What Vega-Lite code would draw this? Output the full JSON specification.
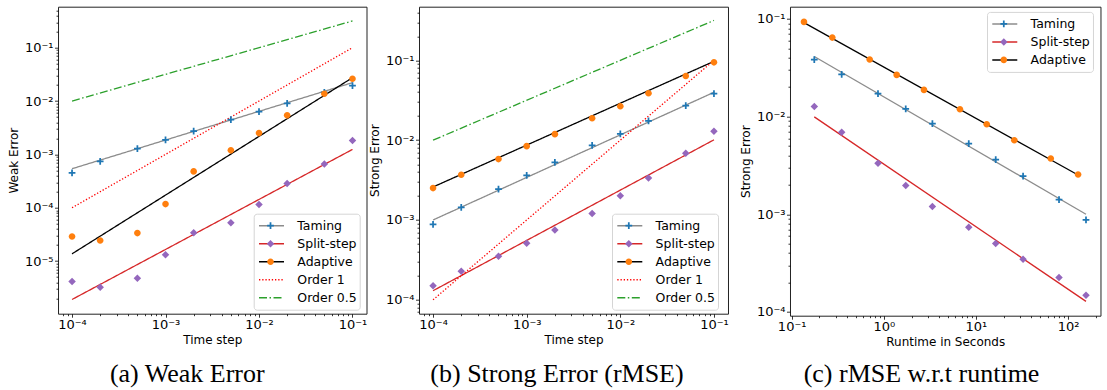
{
  "$schema": "https://vega.github.io/schema/vega-lite/v6.json",
  "padding": {"left": 6, "top": 3.7, "right": 2, "bottom": 0},
  "background": "#ffffff",
  "spacing": -1,
  "datasets": {
    "aLines": [
      {"series": "Taming", "step": 0.0001, "error": 0.000539},
      {"series": "Taming", "step": 0.1, "error": 0.0221},
      {"series": "Split-step", "step": 0.0001, "error": 0.00000191},
      {"series": "Split-step", "step": 0.1, "error": 0.00124},
      {"series": "Adaptive", "step": 0.0001, "error": 0.0000137},
      {"series": "Adaptive", "step": 0.1, "error": 0.0274},
      {"series": "Order 1", "step": 0.0001, "error": 0.0001},
      {"series": "Order 1", "step": 0.1, "error": 0.1},
      {"series": "Order 0.5", "step": 0.0001, "error": 0.01},
      {"series": "Order 0.5", "step": 0.1, "error": 0.3162}
    ],
    "aPoints": [
      {"method": "Taming", "step": 0.0001, "error": 0.000453},
      {"method": "Taming", "step": 0.0002, "error": 0.00074},
      {"method": "Taming", "step": 0.0005, "error": 0.00128},
      {"method": "Taming", "step": 0.001, "error": 0.00188},
      {"method": "Taming", "step": 0.002, "error": 0.00274},
      {"method": "Taming", "step": 0.005, "error": 0.00447},
      {"method": "Taming", "step": 0.01, "error": 0.00631},
      {"method": "Taming", "step": 0.02, "error": 0.00904},
      {"method": "Taming", "step": 0.05, "error": 0.0145},
      {"method": "Taming", "step": 0.1, "error": 0.0194},
      {"method": "Split-step", "step": 0.0001, "error": 0.00000416},
      {"method": "Split-step", "step": 0.0002, "error": 0.00000325},
      {"method": "Split-step", "step": 0.0005, "error": 0.0000048},
      {"method": "Split-step", "step": 0.001, "error": 0.0000131},
      {"method": "Split-step", "step": 0.002, "error": 0.000034},
      {"method": "Split-step", "step": 0.005, "error": 0.0000523},
      {"method": "Split-step", "step": 0.01, "error": 0.0001155},
      {"method": "Split-step", "step": 0.02, "error": 0.000286},
      {"method": "Split-step", "step": 0.05, "error": 0.000659},
      {"method": "Split-step", "step": 0.1, "error": 0.00183},
      {"method": "Adaptive", "step": 0.0001, "error": 0.000029},
      {"method": "Adaptive", "step": 0.0002, "error": 0.0000244},
      {"method": "Adaptive", "step": 0.0005, "error": 0.0000335},
      {"method": "Adaptive", "step": 0.001, "error": 0.000117},
      {"method": "Adaptive", "step": 0.002, "error": 0.00048},
      {"method": "Adaptive", "step": 0.005, "error": 0.00119},
      {"method": "Adaptive", "step": 0.01, "error": 0.00251},
      {"method": "Adaptive", "step": 0.02, "error": 0.00539},
      {"method": "Adaptive", "step": 0.05, "error": 0.01372},
      {"method": "Adaptive", "step": 0.1, "error": 0.0262}
    ],
    "bLines": [
      {"series": "Taming", "step": 0.0001, "error": 0.001},
      {"series": "Taming", "step": 0.1, "error": 0.0398},
      {"series": "Split-step", "step": 0.0001, "error": 0.00013},
      {"series": "Split-step", "step": 0.1, "error": 0.0101},
      {"series": "Adaptive", "step": 0.0001, "error": 0.00259},
      {"series": "Adaptive", "step": 0.1, "error": 0.0972},
      {"series": "Order 1", "step": 0.0001, "error": 0.0001},
      {"series": "Order 1", "step": 0.1, "error": 0.1},
      {"series": "Order 0.5", "step": 0.0001, "error": 0.01},
      {"series": "Order 0.5", "step": 0.1, "error": 0.3162}
    ],
    "bPoints": [
      {"method": "Taming", "step": 0.0001, "error": 0.000883},
      {"method": "Taming", "step": 0.0002, "error": 0.00144},
      {"method": "Taming", "step": 0.0005, "error": 0.00244},
      {"method": "Taming", "step": 0.001, "error": 0.00362},
      {"method": "Taming", "step": 0.002, "error": 0.00526},
      {"method": "Taming", "step": 0.005, "error": 0.00858},
      {"method": "Taming", "step": 0.01, "error": 0.012},
      {"method": "Taming", "step": 0.02, "error": 0.01745},
      {"method": "Taming", "step": 0.05, "error": 0.0271},
      {"method": "Taming", "step": 0.1, "error": 0.0383},
      {"method": "Split-step", "step": 0.0001, "error": 0.00015},
      {"method": "Split-step", "step": 0.0002, "error": 0.000228},
      {"method": "Split-step", "step": 0.0005, "error": 0.000351},
      {"method": "Split-step", "step": 0.001, "error": 0.000511},
      {"method": "Split-step", "step": 0.002, "error": 0.00075},
      {"method": "Split-step", "step": 0.005, "error": 0.00121},
      {"method": "Split-step", "step": 0.01, "error": 0.00201},
      {"method": "Split-step", "step": 0.02, "error": 0.00335},
      {"method": "Split-step", "step": 0.05, "error": 0.00688},
      {"method": "Split-step", "step": 0.1, "error": 0.01296},
      {"method": "Adaptive", "step": 0.0001, "error": 0.00251},
      {"method": "Adaptive", "step": 0.0002, "error": 0.00369},
      {"method": "Adaptive", "step": 0.0005, "error": 0.00579},
      {"method": "Adaptive", "step": 0.001, "error": 0.00841},
      {"method": "Adaptive", "step": 0.002, "error": 0.0119},
      {"method": "Adaptive", "step": 0.005, "error": 0.0188},
      {"method": "Adaptive", "step": 0.01, "error": 0.0266},
      {"method": "Adaptive", "step": 0.02, "error": 0.0387},
      {"method": "Adaptive", "step": 0.05, "error": 0.0637},
      {"method": "Adaptive", "step": 0.1, "error": 0.0944}
    ],
    "cLines": [
      {"series": "Taming", "runtime": 0.176, "error": 0.0412},
      {"series": "Taming", "runtime": 156.6, "error": 0.001},
      {"series": "Split-step", "runtime": 0.176, "error": 0.00993},
      {"series": "Split-step", "runtime": 156.6, "error": 0.000128},
      {"series": "Adaptive", "runtime": 0.136, "error": 0.0915},
      {"series": "Adaptive", "runtime": 128.5, "error": 0.00252}
    ],
    "cPoints": [
      {"method": "Taming", "runtime": 0.176, "error": 0.0384},
      {"method": "Taming", "runtime": 0.349, "error": 0.0271},
      {"method": "Taming", "runtime": 0.865, "error": 0.0172},
      {"method": "Taming", "runtime": 1.73, "error": 0.01198},
      {"method": "Taming", "runtime": 3.37, "error": 0.00848},
      {"method": "Taming", "runtime": 8.36, "error": 0.00529},
      {"method": "Taming", "runtime": 16.4, "error": 0.00363},
      {"method": "Taming", "runtime": 32.5, "error": 0.00245},
      {"method": "Taming", "runtime": 79.8, "error": 0.00141},
      {"method": "Taming", "runtime": 156.6, "error": 0.000874},
      {"method": "Split-step", "runtime": 0.176, "error": 0.01266},
      {"method": "Split-step", "runtime": 0.349, "error": 0.00692},
      {"method": "Split-step", "runtime": 0.865, "error": 0.00333},
      {"method": "Split-step", "runtime": 1.73, "error": 0.00197},
      {"method": "Split-step", "runtime": 3.37, "error": 0.0012},
      {"method": "Split-step", "runtime": 8.36, "error": 0.000736},
      {"method": "Split-step", "runtime": 16.4, "error": 0.000501},
      {"method": "Split-step", "runtime": 32.5, "error": 0.000346},
      {"method": "Split-step", "runtime": 79.8, "error": 0.000225},
      {"method": "Split-step", "runtime": 156.6, "error": 0.000148},
      {"method": "Adaptive", "runtime": 0.136, "error": 0.0932},
      {"method": "Adaptive", "runtime": 0.276, "error": 0.0644},
      {"method": "Adaptive", "runtime": 0.703, "error": 0.0384},
      {"method": "Adaptive", "runtime": 1.38, "error": 0.0267},
      {"method": "Adaptive", "runtime": 2.73, "error": 0.01876},
      {"method": "Adaptive", "runtime": 6.71, "error": 0.01189},
      {"method": "Adaptive", "runtime": 13.1, "error": 0.00835},
      {"method": "Adaptive", "runtime": 26.1, "error": 0.00573},
      {"method": "Adaptive", "runtime": 64.9, "error": 0.00372},
      {"method": "Adaptive", "runtime": 128.5, "error": 0.00255}
    ]
  },
  "resolve": {
    "scale": {"color": "independent", "fill": "independent", "shape": "independent", "strokeDash": "independent"},
    "legend": {"color": "independent", "fill": "independent", "shape": "independent", "strokeDash": "independent"}
  },
  "hconcat": [
    {
      "width": 308.5,
      "height": 307,
      "title": {"text": "(a) Weak Error", "orient": "bottom", "frame": "group", "anchor": "middle", "dx": -25, "offset": 15, "font": "Liberation Serif", "fontSize": 26, "fontWeight": "normal", "color": "#000"},
      "layer": [
        {
          "data": {"name": "aLines"},
          "mark": {"type": "line", "strokeWidth": 1.3, "clip": true},
          "encoding": {
            "x": {"field": "step", "type": "quantitative", "scale": {"type": "log", "domain": [0.00007079, 0.14125], "nice": false},
              "axis": {"title": "Time step", "values": [0.00008,0.00009,0.0001,0.0002,0.0003,0.0004,0.0005,0.0006,0.0007,0.0008,0.0009,0.001,0.002,0.003,0.004,0.005,0.006,0.007,0.008,0.009,0.01,0.02,0.03,0.04,0.05,0.06,0.07,0.08,0.09,0.1],
                "labelExpr": "abs(log(datum.value)/LN10 - round(log(datum.value)/LN10)) < 0.001 ? '10' + replace(replace(replace(replace(replace(replace(replace(replace('' + round(log(datum.value)/LN10), '-', '⁻'), '0', '⁰'), '1', '¹'), '2', '²'), '3', '³'), '4', '⁴'), '5', '⁵'), '6', '⁶') : ''",
                "tickSize": {"condition": {"test": "abs(log(datum.value)/LN10 - round(log(datum.value)/LN10)) < 0.001", "value": 3.5}, "value": 2}}},
            "y": {"field": "error", "type": "quantitative", "scale": {"type": "log", "domain": [0.000001035, 0.586], "nice": false},
              "axis": {"title": "Weak Error", "values": [0.000002,0.000003,0.000004,0.000005,0.000006,0.000007,0.000008,0.000009,0.00001,0.00002,0.00003,0.00004,0.00005,0.00006,0.00007,0.00008,0.00009,0.0001,0.0002,0.0003,0.0004,0.0005,0.0006,0.0007,0.0008,0.0009,0.001,0.002,0.003,0.004,0.005,0.006,0.007,0.008,0.009,0.01,0.02,0.03,0.04,0.05,0.06,0.07,0.08,0.09,0.1,0.2,0.3,0.4,0.5],
                "labelExpr": "abs(log(datum.value)/LN10 - round(log(datum.value)/LN10)) < 0.001 ? '10' + replace(replace(replace(replace(replace(replace(replace(replace('' + round(log(datum.value)/LN10), '-', '⁻'), '0', '⁰'), '1', '¹'), '2', '²'), '3', '³'), '4', '⁴'), '5', '⁵'), '6', '⁶') : ''",
                "tickSize": {"condition": {"test": "abs(log(datum.value)/LN10 - round(log(datum.value)/LN10)) < 0.001", "value": 3.5}, "value": 2}}},
            "color": {"field": "series", "type": "nominal",
              "scale": {"domain": ["Taming", "Split-step", "Adaptive", "Order 1", "Order 0.5"], "range": ["#8c8c8c", "#d62728", "#000000", "#ff0000", "#2ca02c"]},
              "legend": {"title": null, "orient": "none", "legendX": 195.7, "legendY": 207, "symbolType": "stroke", "symbolSize": 625, "symbolStrokeWidth": 1.5, "clipHeight": 18, "rowPadding": 0, "padding": 3, "symbolOffset": 1.3, "labelOffset": 12.3, "labelFont": "DejaVu Sans", "labelFontSize": 12.5, "labelColor": "#000", "strokeColor": "#d5d5d5", "fillColor": "rgba(255,255,255,0.8)", "cornerRadius": 3}},
            "strokeDash": {"field": "series", "type": "nominal",
              "scale": {"domain": ["Taming", "Split-step", "Adaptive", "Order 1", "Order 0.5"], "range": [[1, 0], [1, 0], [1, 0], [1.3, 1.9], [8, 2.5, 1.5, 2.5]]},
              "legend": {"title": null, "orient": "none", "legendX": 195.7, "legendY": 207, "symbolType": "stroke", "symbolSize": 625, "symbolStrokeWidth": 1.5, "clipHeight": 18, "rowPadding": 0, "padding": 3, "symbolOffset": 1.3, "labelOffset": 12.3, "labelFont": "DejaVu Sans", "labelFontSize": 12.5, "labelColor": "#000", "strokeColor": "#d5d5d5", "fillColor": "rgba(255,255,255,0.8)", "cornerRadius": 3}}
          }
        },
        {
          "data": {"name": "aPoints"},
          "mark": {"type": "point", "filled": true, "opacity": 1, "size": 625, "strokeWidth": 0},
          "encoding": {
            "x": {"field": "step", "type": "quantitative"},
            "y": {"field": "error", "type": "quantitative"},
            "fill": {"field": "method", "type": "nominal",
              "scale": {"domain": ["Taming", "Split-step", "Adaptive"], "range": ["#1f77b4", "#9467bd", "#ff7f0e"]},
              "legend": {"title": null, "orient": "none", "legendX": 195.7, "legendY": 207, "symbolSize": 625, "symbolStrokeWidth": 0, "clipHeight": 18, "rowPadding": 0, "padding": 3, "symbolOffset": 1.3, "labelOffset": 12.3, "labelFont": "DejaVu Sans", "labelFontSize": 12.5, "labelOpacity": 0, "strokeColor": "transparent", "fillColor": "transparent"}},
            "shape": {"field": "method", "type": "nominal",
              "scale": {"domain": ["Taming", "Split-step", "Adaptive"], "range": ["M-0.07,-0.27H0.07V-0.07H0.27V0.07H0.07V0.27H-0.07V0.07H-0.27V-0.07H-0.07Z", "M0,-0.3L0.3,0L0,0.3L-0.3,0Z", "M0.265,0A0.265,0.265,0,1,1,-0.265,0A0.265,0.265,0,1,1,0.265,0Z"]},
              "legend": {"title": null, "orient": "none", "legendX": 195.7, "legendY": 207, "symbolSize": 625, "symbolStrokeWidth": 0, "clipHeight": 18, "rowPadding": 0, "padding": 3, "symbolOffset": 1.3, "labelOffset": 12.3, "labelFont": "DejaVu Sans", "labelFontSize": 12.5, "labelOpacity": 0, "strokeColor": "transparent", "fillColor": "transparent"}}
          }
        }
      ]
    },
    {
      "width": 309,
      "height": 307,
      "title": {"text": "(b) Strong Error (rMSE)", "orient": "bottom", "frame": "group", "anchor": "middle", "dx": -16.5, "offset": 15, "font": "Liberation Serif", "fontSize": 26, "fontWeight": "normal", "color": "#000"},
      "resolve": {"axis": {"y": "independent"}},
      "layer": [
        {
          "data": {"name": "bLines"},
          "mark": {"type": "line", "strokeWidth": 1.3, "clip": true},
          "encoding": {
            "x": {"field": "step", "type": "quantitative", "scale": {"type": "log", "domain": [0.00007079, 0.14125], "nice": false},
              "axis": {"title": "Time step", "values": [0.00008,0.00009,0.0001,0.0002,0.0003,0.0004,0.0005,0.0006,0.0007,0.0008,0.0009,0.001,0.002,0.003,0.004,0.005,0.006,0.007,0.008,0.009,0.01,0.02,0.03,0.04,0.05,0.06,0.07,0.08,0.09,0.1],
                "labelExpr": "abs(log(datum.value)/LN10 - round(log(datum.value)/LN10)) < 0.001 ? '10' + replace(replace(replace(replace(replace(replace(replace(replace('' + round(log(datum.value)/LN10), '-', '⁻'), '0', '⁰'), '1', '¹'), '2', '²'), '3', '³'), '4', '⁴'), '5', '⁵'), '6', '⁶') : ''",
                "tickSize": {"condition": {"test": "abs(log(datum.value)/LN10 - round(log(datum.value)/LN10)) < 0.001", "value": 3.5}, "value": 2}}},
            "y": {"field": "error", "type": "quantitative", "scale": {"type": "log", "domain": [0.000067, 0.47], "nice": false},
              "axis": {"title": "Strong Error", "values": [0.00007,0.00008,0.00009,0.0001,0.0002,0.0003,0.0004,0.0005,0.0006,0.0007,0.0008,0.0009,0.001,0.002,0.003,0.004,0.005,0.006,0.007,0.008,0.009,0.01,0.02,0.03,0.04,0.05,0.06,0.07,0.08,0.09,0.1,0.2,0.3,0.4],
                "labelExpr": "abs(log(datum.value)/LN10 - round(log(datum.value)/LN10)) < 0.001 ? '10' + replace(replace(replace(replace(replace(replace(replace(replace('' + round(log(datum.value)/LN10), '-', '⁻'), '0', '⁰'), '1', '¹'), '2', '²'), '3', '³'), '4', '⁴'), '5', '⁵'), '6', '⁶') : ''",
                "tickSize": {"condition": {"test": "abs(log(datum.value)/LN10 - round(log(datum.value)/LN10)) < 0.001", "value": 3.5}, "value": 2}}},
            "color": {"field": "series", "type": "nominal",
              "scale": {"domain": ["Taming", "Split-step", "Adaptive", "Order 1", "Order 0.5"], "range": ["#8c8c8c", "#d62728", "#000000", "#ff0000", "#2ca02c"]},
              "legend": {"title": null, "orient": "none", "legendX": 193, "legendY": 207, "symbolType": "stroke", "symbolSize": 625, "symbolStrokeWidth": 1.5, "clipHeight": 18, "rowPadding": 0, "padding": 3, "symbolOffset": 1.3, "labelOffset": 12.3, "labelFont": "DejaVu Sans", "labelFontSize": 12.5, "labelColor": "#000", "strokeColor": "#d5d5d5", "fillColor": "rgba(255,255,255,0.8)", "cornerRadius": 3}},
            "strokeDash": {"field": "series", "type": "nominal",
              "scale": {"domain": ["Taming", "Split-step", "Adaptive", "Order 1", "Order 0.5"], "range": [[1, 0], [1, 0], [1, 0], [1.3, 1.9], [8, 2.5, 1.5, 2.5]]},
              "legend": {"title": null, "orient": "none", "legendX": 193, "legendY": 207, "symbolType": "stroke", "symbolSize": 625, "symbolStrokeWidth": 1.5, "clipHeight": 18, "rowPadding": 0, "padding": 3, "symbolOffset": 1.3, "labelOffset": 12.3, "labelFont": "DejaVu Sans", "labelFontSize": 12.5, "labelColor": "#000", "strokeColor": "#d5d5d5", "fillColor": "rgba(255,255,255,0.8)", "cornerRadius": 3}}
          }
        },
        {
          "data": {"name": "bPoints"},
          "mark": {"type": "point", "filled": true, "opacity": 1, "size": 625, "strokeWidth": 0},
          "encoding": {
            "x": {"field": "step", "type": "quantitative"},
            "y": {"field": "error", "type": "quantitative",
              "axis": {"orient": "right", "title": "I", "titleOpacity": 0, "titleFontSize": 10, "titlePadding": 0, "labels": false, "ticks": false, "domain": false, "grid": false}},
            "fill": {"field": "method", "type": "nominal",
              "scale": {"domain": ["Taming", "Split-step", "Adaptive"], "range": ["#1f77b4", "#9467bd", "#ff7f0e"]},
              "legend": {"title": null, "orient": "none", "legendX": 193, "legendY": 207, "symbolSize": 625, "symbolStrokeWidth": 0, "clipHeight": 18, "rowPadding": 0, "padding": 3, "symbolOffset": 1.3, "labelOffset": 12.3, "labelFont": "DejaVu Sans", "labelFontSize": 12.5, "labelOpacity": 0, "strokeColor": "transparent", "fillColor": "transparent"}},
            "shape": {"field": "method", "type": "nominal",
              "scale": {"domain": ["Taming", "Split-step", "Adaptive"], "range": ["M-0.07,-0.27H0.07V-0.07H0.27V0.07H0.07V0.27H-0.07V0.07H-0.27V-0.07H-0.07Z", "M0,-0.3L0.3,0L0,0.3L-0.3,0Z", "M0.265,0A0.265,0.265,0,1,1,-0.265,0A0.265,0.265,0,1,1,0.265,0Z"]},
              "legend": {"title": null, "orient": "none", "legendX": 193, "legendY": 207, "symbolSize": 625, "symbolStrokeWidth": 0, "clipHeight": 18, "rowPadding": 0, "padding": 3, "symbolOffset": 1.3, "labelOffset": 12.3, "labelFont": "DejaVu Sans", "labelFontSize": 12.5, "labelOpacity": 0, "strokeColor": "transparent", "fillColor": "transparent"}}
          }
        }
      ]
    },
    {
      "width": 310.5,
      "height": 309,
      "title": {"text": "(c) rMSE w.r.t runtime", "orient": "bottom", "frame": "group", "anchor": "middle", "dx": -23.7, "offset": 13, "font": "Liberation Serif", "fontSize": 26, "fontWeight": "normal", "color": "#000"},
      "layer": [
        {
          "data": {"name": "cLines"},
          "mark": {"type": "line", "strokeWidth": 1.3, "clip": true},
          "encoding": {
            "x": {"field": "runtime", "type": "quantitative", "scale": {"type": "log", "domain": [0.0959, 224.9], "nice": false},
              "axis": {"title": "Runtime in Seconds", "values": [0.1,0.2,0.3,0.4,0.5,0.6,0.7,0.8,0.9,1,2,3,4,5,6,7,8,9,10,20,30,40,50,60,70,80,90,100,200],
                "labelExpr": "abs(log(datum.value)/LN10 - round(log(datum.value)/LN10)) < 0.001 ? '10' + replace(replace(replace(replace(replace(replace(replace(replace('' + round(log(datum.value)/LN10), '-', '⁻'), '0', '⁰'), '1', '¹'), '2', '²'), '3', '³'), '4', '⁴'), '5', '⁵'), '6', '⁶') : ''",
                "tickSize": {"condition": {"test": "abs(log(datum.value)/LN10 - round(log(datum.value)/LN10)) < 0.001", "value": 3.5}, "value": 2}}},
            "y": {"field": "error", "type": "quantitative", "scale": {"type": "log", "domain": [0.0000914, 0.1334], "nice": false},
              "axis": {"title": "Strong Error", "values": [0.0001,0.0002,0.0003,0.0004,0.0005,0.0006,0.0007,0.0008,0.0009,0.001,0.002,0.003,0.004,0.005,0.006,0.007,0.008,0.009,0.01,0.02,0.03,0.04,0.05,0.06,0.07,0.08,0.09,0.1],
                "labelExpr": "abs(log(datum.value)/LN10 - round(log(datum.value)/LN10)) < 0.001 ? '10' + replace(replace(replace(replace(replace(replace(replace(replace('' + round(log(datum.value)/LN10), '-', '⁻'), '0', '⁰'), '1', '¹'), '2', '²'), '3', '³'), '4', '⁴'), '5', '⁵'), '6', '⁶') : ''",
                "tickSize": {"condition": {"test": "abs(log(datum.value)/LN10 - round(log(datum.value)/LN10)) < 0.001", "value": 3.5}, "value": 2}}},
            "color": {"field": "series", "type": "nominal",
              "scale": {"domain": ["Taming", "Split-step", "Adaptive"], "range": ["#8c8c8c", "#d62728", "#000000"]},
              "legend": {"title": null, "orient": "none", "legendX": 197, "legendY": 5.2, "symbolType": "stroke", "symbolSize": 625, "symbolStrokeWidth": 1.5, "clipHeight": 18, "rowPadding": 0, "padding": 3, "symbolOffset": 1.3, "labelOffset": 12.3, "labelFont": "DejaVu Sans", "labelFontSize": 12.5, "labelColor": "#000", "strokeColor": "#d5d5d5", "fillColor": "rgba(255,255,255,0.8)", "cornerRadius": 3}}
          }
        },
        {
          "data": {"name": "cPoints"},
          "mark": {"type": "point", "filled": true, "opacity": 1, "size": 625, "strokeWidth": 0},
          "encoding": {
            "x": {"field": "runtime", "type": "quantitative"},
            "y": {"field": "error", "type": "quantitative"},
            "fill": {"field": "method", "type": "nominal",
              "scale": {"domain": ["Taming", "Split-step", "Adaptive", "none"], "range": ["#1f77b4", "#9467bd", "#ff7f0e", "#ffffff"]},
              "legend": {"title": null, "values": ["Taming", "Split-step", "Adaptive"], "orient": "none", "legendX": 197, "legendY": 5.2, "symbolSize": 625, "symbolStrokeWidth": 0, "clipHeight": 18, "rowPadding": 0, "padding": 3, "symbolOffset": 1.3, "labelOffset": 12.3, "labelFont": "DejaVu Sans", "labelFontSize": 12.5, "labelOpacity": 0, "strokeColor": "transparent", "fillColor": "transparent"}},
            "shape": {"field": "method", "type": "nominal",
              "scale": {"domain": ["Taming", "Split-step", "Adaptive", "none"], "range": ["M-0.07,-0.27H0.07V-0.07H0.27V0.07H0.07V0.27H-0.07V0.07H-0.27V-0.07H-0.07Z", "M0,-0.3L0.3,0L0,0.3L-0.3,0Z", "M0.265,0A0.265,0.265,0,1,1,-0.265,0A0.265,0.265,0,1,1,0.265,0Z", "M0,0Z"]},
              "legend": {"title": null, "values": ["Taming", "Split-step", "Adaptive"], "orient": "none", "legendX": 197, "legendY": 5.2, "symbolSize": 625, "symbolStrokeWidth": 0, "clipHeight": 18, "rowPadding": 0, "padding": 3, "symbolOffset": 1.3, "labelOffset": 12.3, "labelFont": "DejaVu Sans", "labelFontSize": 12.5, "labelOpacity": 0, "strokeColor": "transparent", "fillColor": "transparent"}}
          }
        }
      ]
    }
  ],
  "config": {
    "view": {"stroke": "#222222", "strokeWidth": 1},
    "axis": {"domain": false, "grid": false, "tickColor": "#000000", "tickWidth": 0.8, "labelColor": "#000000", "titleColor": "#000000", "labelFont": "DejaVu Sans", "titleFont": "DejaVu Sans", "labelFontSize": 13, "titleFontSize": 12, "titleFontWeight": "normal", "labelOverlap": false, "labelFlush": false, "labelPadding": 1.5},
    "axisX": {"titlePadding": 3},
    "axisY": {"titlePadding": 4}
  }
}
